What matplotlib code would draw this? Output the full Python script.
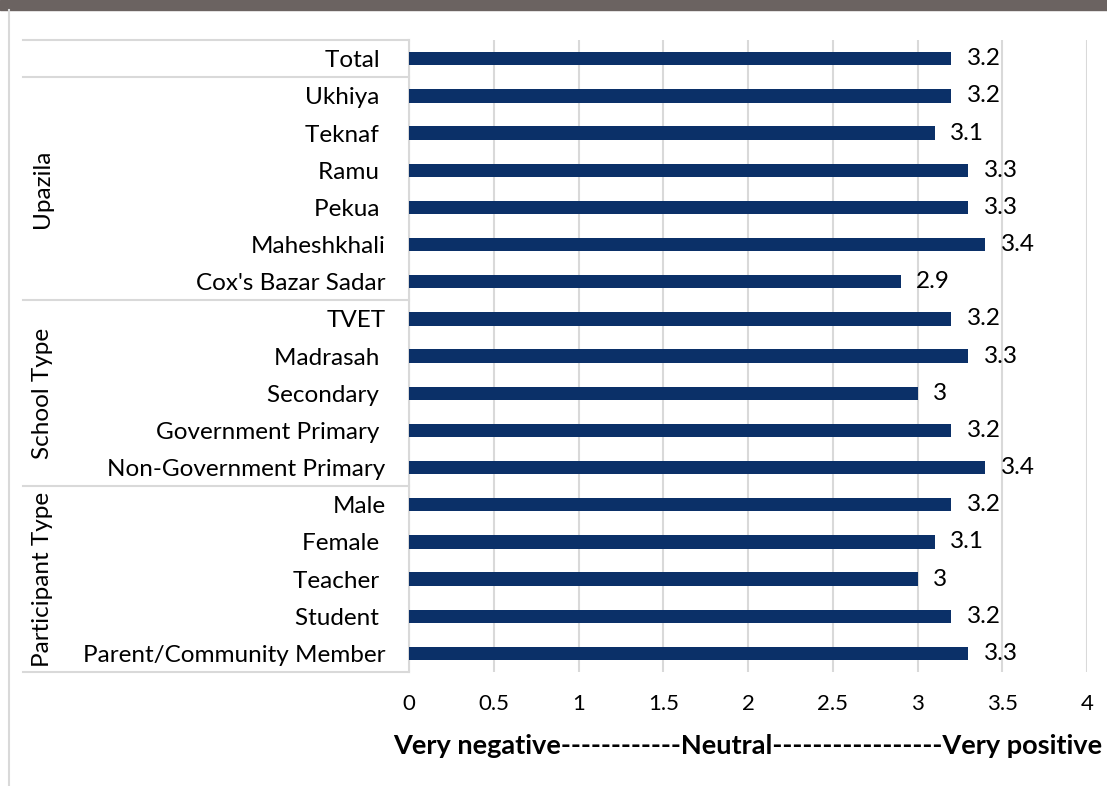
import matplotlib.pyplot as plt
from matplotlib.patches import Rectangle
from matplotlib.lines import Line2D
import matplotlib.transforms as mtransforms

plt.rcParams['font.family'] = ['Lato', 'DejaVu Sans']

# Categories, top to bottom as shown
labels = ['Total ', 'Ukhiya ', 'Teknaf ', 'Ramu ', 'Pekua ', 'Maheshkhali',
          "Cox's Bazar Sadar", 'TVET', 'Madrasah ', 'Secondary ',
          'Government Primary ', 'Non-Government Primary', 'Male', 'Female ',
          'Teacher ', 'Student ', 'Parent/Community Member']
values = [3.2, 3.2, 3.1, 3.3, 3.3, 3.4, 2.9, 3.2, 3.3, 3.0, 3.2, 3.4,
          3.2, 3.1, 3.0, 3.2, 3.3]

# Group names with how many rows each spans (top to bottom)
groups = ['', 'Upazila', 'School Type', 'Participant Type']
group_sizes = [1, 6, 5, 5]

xticks = [0, 0.5, 1, 1.5, 2, 2.5, 3, 3.5, 4]
xtick_labels = ['0', '0.5', '1', '1.5', '2', '2.5', '3', '3.5', '4']
xlabel = 'Very negative------------Neutral-----------------Very positive'

bar_color = '#0b3068'
grid_color = '#d9d9d9'

fig = plt.figure(figsize=(11.07, 7.86), dpi=100)
ax = fig.add_axes([0.3695, 0.145, 0.6125, 0.804])

n = len(labels)
ypos = list(range(n - 1, -1, -1))
ax.barh(ypos, values, height=0.36, color=bar_color, zorder=3)

for y, v in zip(ypos, values):
    ax.text(v + 0.09, y, '{:g}'.format(v), va='center', ha='left',
            fontsize=17.5, color='black', zorder=4)

ax.set_xlim(0, 4)
ax.set_ylim(-0.5, n - 0.5)
ax.set_xticks(xticks)
ax.set_xticklabels(xtick_labels, fontsize=16)
ax.set_yticks(ypos)
ax.set_yticklabels(labels, fontsize=17.5)
ax.tick_params(axis='both', length=0)
ax.tick_params(axis='x', pad=16)
ax.tick_params(axis='y', pad=17)
ax.set_xlabel(xlabel, fontsize=19.5, fontweight='bold', labelpad=14)

ax.grid(axis='x', color=grid_color, linewidth=1.5, zorder=0)
for s in ['top', 'right', 'bottom']:
    ax.spines[s].set_visible(False)
ax.spines['left'].set_color(grid_color)
ax.spines['left'].set_linewidth(1.5)

# multi-level category box on the left
trans = mtransforms.blended_transform_factory(ax.transAxes, ax.transData)
x0 = -0.569
edge = n - 0.5
ax.add_line(Line2D([x0, 0], [edge, edge], transform=trans, color=grid_color,
                   lw=1.5, clip_on=False))
for g, size in zip(groups, group_sizes):
    top = edge
    edge = edge - size
    ax.add_line(Line2D([x0, 0], [edge, edge], transform=trans,
                       color=grid_color, lw=1.5, clip_on=False))
    if g:
        ax.text(-0.541, (top + edge) / 2, g, transform=trans, rotation=90,
                ha='center', va='center', fontsize=17.5)

# dark band on top and light frame line on the left
fig.patches.append(Rectangle((0, 1 - 10 / 786), 1, 10 / 786,
                             transform=fig.transFigure, color='#6b6361'))
fig.lines.append(Line2D([8.5 / 1107, 8.5 / 1107], [0, 1 - 10 / 786],
                        transform=fig.transFigure, color=grid_color, lw=1.5))

plt.savefig('out.png', dpi=100)
